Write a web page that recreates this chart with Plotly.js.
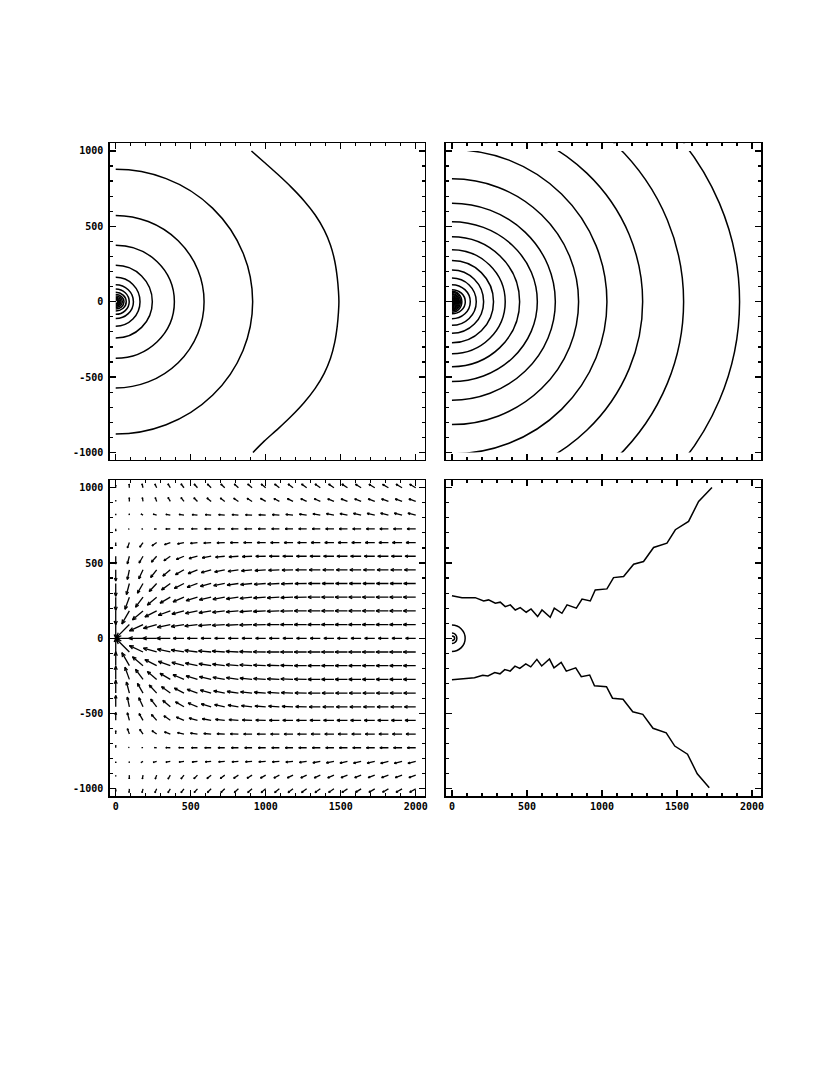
<!DOCTYPE html>
<html><head><meta charset="utf-8">
<script src="https://cdn.plot.ly/plotly-3.0.1.min.js"></script>
<style>html,body{margin:0;padding:0;background:#fff}#chart{width:830px;height:1075px}</style>
</head><body><div id="chart"></div>
<script>
// ---------- data ----------
const xTickVals = [0, 500, 1000, 1500, 2000];
const xTickText = ['0', '500', '1000', '1500', '2000'];
const yTickVals = [-1000, -500, 0, 500, 1000];
const yTickText = ['-1000', '-500', '0', '500', '1000'];

// top-left contour radii (x and y half-axes)
const tlRx = [913, 589, 391, 244, 162, 118, 90, 70, 55, 44, 35, 27, 20, 13];
const tlRy = [878, 572, 375, 241, 162, 112, 84, 62, 48, 38, 30, 23, 17, 11];
// top-left outermost contour
const tlOuterX = [905, 990, 1080, 1170, 1255, 1330, 1390, 1432, 1460, 1477, 1485, 1488, 1485, 1477, 1460, 1432, 1390, 1330, 1255, 1170, 1080, 990, 915];
const tlOuterY = [1000, 925, 845, 760, 670, 575, 475, 375, 270, 160, 70, 0, -70, -160, -270, -375, -475, -575, -670, -760, -845, -925, -1000];

// top-right contour radii
const trRx = [1917, 1544, 1271, 1033, 844, 689, 569, 451, 355, 277, 211, 162, 122, 89, 66, 57, 50, 44, 38, 32, 26, 21, 16, 11, 6];
const trRy = [1776, 1472, 1206, 1010, 815, 653, 530, 431, 345, 273, 210, 157, 113, 80, 70, 62, 54, 47, 40, 33, 27, 21, 16, 10, 5];

// bottom-right small contours at origin
const brRx = [88, 33, 18];
const brRy = [88, 35, 15];
// bottom-right jagged contour, upper and lower branch
const brUpX = [0, 67, 155, 211, 244, 289, 322, 355, 389, 422, 455, 495, 527, 571, 600, 655, 682, 733, 767, 829, 867, 922, 955, 1033, 1077, 1144, 1211, 1277, 1344, 1433, 1489, 1577, 1644, 1733];
const brUpY = [283, 270, 270, 248, 255, 233, 240, 210, 222, 188, 204, 173, 195, 144, 188, 140, 200, 166, 222, 200, 261, 248, 321, 328, 403, 410, 492, 510, 603, 632, 721, 776, 909, 1002];
const brLoX = [0, 70, 150, 205, 240, 285, 320, 352, 388, 420, 452, 492, 525, 566, 598, 650, 680, 728, 762, 825, 862, 918, 950, 1030, 1070, 1140, 1205, 1272, 1340, 1428, 1485, 1570, 1635, 1715];
const brLoY = [-276, -268, -262, -245, -250, -228, -236, -208, -218, -185, -200, -170, -190, -140, -184, -138, -196, -160, -218, -196, -255, -244, -315, -322, -398, -405, -488, -505, -598, -628, -716, -770, -900, -993];

// bottom-left vector field grid
const gridX = [0, 91, 182, 273, 364, 455, 545, 636, 727, 818, 909, 1000, 1091, 1182, 1273, 1364, 1455, 1545, 1636, 1727, 1818, 1909, 2000];
const gridY = [1000, 909, 818, 727, 636, 545, 455, 364, 273, 182, 91, 0, -91, -182, -273, -364, -455, -545, -636, -727, -818, -909, -1000];
// arrow direction (degrees) per row, top row first
const vecAngle = [
 [90,95,105,115,122,128,132,135,137,138,140,141,142,143,144,145,146,147,148,149,150,150,150],
 [90,92,100,110,120,128,135,140,143,146,148,150,152,154,155,156,157,158,158,159,160,160,160],
 [90,100,150,165,170,172,174,175,176,176,177,177,176,174,172,170,169,168,167,167,166,166,166],
 [270,200,190,185,182,181,180,180,180,180,180,180,180,180,180,180,180,180,180,180,180,180,180],
 [270,250,235,215,200,192,187,184,182,181,180,180,180,180,180,180,180,180,180,180,180,180,180],
 [270,255,240,228,215,203,195,190,186,184,182,181,180,180,180,180,180,180,180,180,180,180,180],
 [270,258,245,232,220,210,202,196,192,189,186,184,183,182,181,180,180,180,180,180,180,180,180],
 [270,255,240,227,216,207,200,195,191,188,186,184,183,182,181,180,180,180,180,180,180,180,180],
 [270,250,233,220,210,203,197,193,190,188,186,184,183,182,181,180,180,180,180,180,180,180,180],
 [270,240,220,207,200,195,192,189,187,185,184,183,182,181,180,180,180,180,180,180,180,180,180],
 [270,225,205,196,192,189,187,185,184,183,182,181,180,180,180,180,180,180,180,180,180,180,180],
 [180,180,180,180,180,180,180,180,180,180,180,180,180,180,180,180,180,180,180,180,180,180,180],
 [90,135,155,164,168,171,173,175,176,177,178,179,180,180,180,180,180,180,180,180,180,180,180],
 [90,120,140,153,160,165,168,171,173,175,176,177,178,179,180,180,180,180,180,180,180,180,180],
 [90,110,127,140,150,157,163,167,170,172,174,176,177,178,179,180,180,180,180,180,180,180,180],
 [90,105,120,133,144,153,160,165,169,172,174,176,177,178,179,180,180,180,180,180,180,180,180],
 [90,102,115,128,140,150,158,164,168,171,174,176,177,178,179,180,180,180,180,180,180,180,180],
 [90,105,120,132,145,157,165,170,174,176,178,179,180,180,180,180,180,180,180,180,180,180,180],
 [90,110,125,145,160,168,173,176,178,179,180,180,180,180,180,180,180,180,180,180,180,180,180],
 [90,160,170,175,178,179,180,180,180,180,180,180,180,180,180,180,180,180,180,180,180,180,180],
 [270,260,210,195,190,188,186,185,184,184,183,183,184,186,188,190,191,192,193,193,194,194,194],
 [270,268,260,250,240,232,225,220,217,214,212,210,208,206,205,204,203,202,202,201,200,200,200],
 [270,265,255,245,238,232,228,225,223,222,220,219,218,217,216,215,214,213,212,211,210,210,210]
];
// arrow length (data units) per row, top row first
const vecLen = [
 [16,24,26,28,30,32,33,35,36,37,38,39,40,41,42,43,43,44,44,45,45,46,46],
 [8,24,25,27,30,32,34,36,37,38,39,40,41,42,43,44,45,46,46,47,48,48,48],
 [8,8,15,24,30,33,36,39,41,43,44,46,47,48,49,50,51,51,52,52,53,53,53],
 [15,6,8,15,30,35,40,43,45,47,49,50,51,52,53,54,55,55,56,56,57,57,57],
 [22,38,38,38,41,44,47,49,52,54,56,57,58,59,60,61,61,62,62,63,63,64,64],
 [52,52,52,52,52,55,58,60,62,63,65,66,67,68,68,69,69,70,70,70,71,71,71],
 [75,66,66,65,65,65,67,68,69,70,71,72,72,73,73,74,74,74,75,75,75,75,75],
 [85,76,74,73,72,72,73,74,75,76,77,77,78,78,78,79,79,79,79,79,80,80,80],
 [88,86,83,81,79,79,79,80,80,81,81,81,81,81,82,82,82,82,82,82,82,82,82],
 [92,100,92,88,85,83,82,82,82,82,82,82,82,82,82,82,82,82,82,82,82,82,82],
 [91,125,100,92,88,86,85,84,84,83,83,83,83,83,83,83,83,83,83,83,83,83,83],
 [0,91,95,92,90,72,68,67,67,67,67,67,67,67,67,67,67,67,67,67,67,67,67],
 [91,125,100,92,88,86,85,84,84,83,83,83,83,83,83,83,83,83,83,83,83,83,83],
 [92,100,92,88,85,83,82,82,82,82,82,82,82,82,82,82,82,82,82,82,82,82,82],
 [88,86,83,81,79,79,79,80,80,81,81,81,81,81,82,82,82,82,82,82,82,82,82],
 [85,76,74,73,72,72,73,74,75,76,77,77,78,78,78,79,79,79,79,79,80,80,80],
 [75,66,66,65,65,65,67,68,69,70,71,72,72,73,73,74,74,74,75,75,75,75,75],
 [52,52,52,52,52,55,58,60,62,63,65,66,67,68,68,69,69,70,70,70,71,71,71],
 [22,38,38,38,41,44,47,49,52,54,56,57,58,59,60,61,61,62,62,63,63,64,64],
 [15,6,8,15,30,35,40,43,45,47,49,50,51,52,53,54,55,55,56,56,57,57,57],
 [8,8,15,24,30,33,36,39,41,43,44,46,47,48,49,50,51,51,52,52,53,53,53],
 [8,24,25,27,30,32,34,36,37,38,39,40,41,42,43,44,45,46,46,47,48,48,48],
 [16,24,26,28,30,32,33,35,36,37,38,39,40,41,42,43,43,44,44,45,45,46,46]
];

// ---------- build arrows ----------
const arrX = [], arrY = [];
const headFrac = 0.3, headAng = 22.5 * Math.PI / 180;
for (let j = 0; j < gridY.length; j++) {
  for (let i = 0; i < gridX.length; i++) {
    const L = vecLen[j][i];
    if (!L) continue;
    const a = vecAngle[j][i] * Math.PI / 180;
    const x0 = gridX[i], y0 = gridY[j];
    const x1 = x0 + L * Math.cos(a), y1 = y0 + L * Math.sin(a);
    arrX.push(x0, x1, null); arrY.push(y0, y1, null);
    const h = headFrac * L;
    arrX.push(x1 - h * Math.cos(a - headAng), x1, x1 - h * Math.cos(a + headAng), null);
    arrY.push(y1 - h * Math.sin(a - headAng), y1, y1 - h * Math.sin(a + headAng), null);
  }
}

// ---------- shapes ----------
function rings(rx, ry, xr, yr) {
  return rx.map((r, k) => ({type: 'circle', xref: xr, yref: yr, x0: -r, x1: r, y0: -ry[k], y1: ry[k],
    line: {color: '#000', width: 1.5}, layer: 'below'}));
}
function masks(xr, yr) {
  const base = {type: 'rect', xref: xr, yref: yr, fillcolor: '#fff', line: {width: 0}, layer: 'below'};
  return [
    Object.assign({}, base, {x0: -300, x1: 0, y0: -1300, y1: 1300}),
    Object.assign({}, base, {x0: -300, x1: 2300, y0: 1000, y1: 1300}),
    Object.assign({}, base, {x0: -300, x1: 2300, y0: -1300, y1: -1000})
  ];
}
const shapes = [].concat(
  rings(tlRx, tlRy, 'x', 'y'), masks('x', 'y'),
  rings(trRx, trRy, 'x2', 'y2'), masks('x2', 'y2'),
  rings(brRx, brRy, 'x4', 'y4'), masks('x4', 'y4')
);

// ---------- traces ----------
const lineStyle = {color: '#000', width: 1.5};
const traces = [
  {x: tlOuterX, y: tlOuterY, xaxis: 'x', yaxis: 'y', mode: 'lines', line: Object.assign({shape: 'spline', smoothing: 0.6}, lineStyle), hoverinfo: 'skip'},
  {x: [], y: [], xaxis: 'x2', yaxis: 'y2', mode: 'lines', hoverinfo: 'skip'},
  {x: arrX, y: arrY, xaxis: 'x3', yaxis: 'y3', mode: 'lines', line: {color: '#000', width: 1.3}, hoverinfo: 'skip'},
  {x: brUpX, y: brUpY, xaxis: 'x4', yaxis: 'y4', mode: 'lines', line: lineStyle, hoverinfo: 'skip'},
  {x: brLoX, y: brLoY, xaxis: 'x4', yaxis: 'y4', mode: 'lines', line: lineStyle, hoverinfo: 'skip'}
];

// ---------- axes ----------
const tickFont = {family: 'DejaVu Sans Mono, monospace', size: 10, color: '#000', weight: 'bold'};
function axisBase(range, vals, text, showLabels) {
  return {
    range: range, autorange: false, showgrid: false, zeroline: false,
    showline: true, linecolor: '#000', linewidth: 1.5, mirror: 'allticks',
    ticks: 'inside', ticklen: 6, tickwidth: 1.2, tickcolor: '#000',
    tickmode: 'array', tickvals: vals, ticktext: text, showticklabels: showLabels,
    tickfont: tickFont, fixedrange: true,
    minor: {ticks: 'inside', ticklen: 3, tickwidth: 1.2, tickcolor: '#000', tickmode: 'linear', tick0: 0, dtick: 100, showgrid: false}
  };
}
const xRange = [-40, 2060], yRange = [-1050, 1050];
const dLeft = [0.1322, 0.5117], dRight = [0.5373, 0.9169];
const dTop = [0.5721, 0.8666], dBottom = [0.2592, 0.5533];

const layout = {
  width: 830, height: 1075,
  margin: {l: 0, r: 0, t: 0, b: 0},
  paper_bgcolor: '#fff', plot_bgcolor: '#fff',
  showlegend: false,
  shapes: shapes,
  xaxis: Object.assign(axisBase(xRange, xTickVals, xTickText, false), {domain: dLeft, anchor: 'y'}),
  yaxis: Object.assign(axisBase(yRange, yTickVals, yTickText, true), {domain: dTop, anchor: 'x', ticklabelstandoff: 3}),
  xaxis2: Object.assign(axisBase(xRange, xTickVals, xTickText, false), {domain: dRight, anchor: 'y2'}),
  yaxis2: Object.assign(axisBase(yRange, yTickVals, yTickText, false), {domain: dTop, anchor: 'x2'}),
  xaxis3: Object.assign(axisBase(xRange, xTickVals, xTickText, true), {domain: dLeft, anchor: 'y3'}),
  yaxis3: Object.assign(axisBase(yRange, yTickVals, yTickText, true), {domain: dBottom, anchor: 'x3', ticklabelstandoff: 3}),
  xaxis4: Object.assign(axisBase(xRange, xTickVals, xTickText, true), {domain: dRight, anchor: 'y4'}),
  yaxis4: Object.assign(axisBase(yRange, yTickVals, yTickText, false), {domain: dBottom, anchor: 'x4'})
};

Plotly.newPlot('chart', traces, layout, {displayModeBar: false, staticPlot: true});
</script>
</body></html>
